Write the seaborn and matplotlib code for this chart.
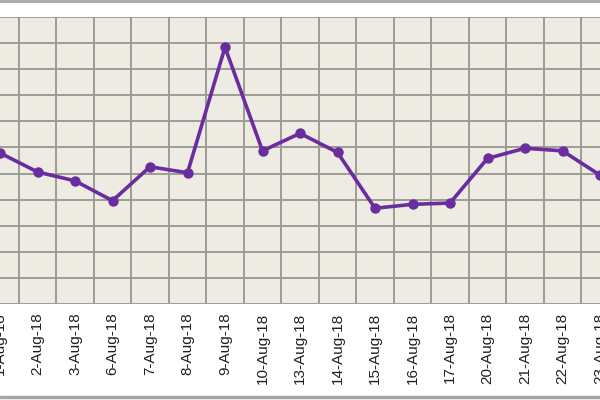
import numpy as np
import pandas as pd
import seaborn as sns
import matplotlib.pyplot as plt
from matplotlib.lines import Line2D

dates = ['1-Aug-18', '2-Aug-18', '3-Aug-18', '6-Aug-18', '7-Aug-18', '8-Aug-18',
         '9-Aug-18', '10-Aug-18', '13-Aug-18', '14-Aug-18', '15-Aug-18', '16-Aug-18',
         '17-Aug-18', '20-Aug-18', '21-Aug-18', '22-Aug-18', '23-Aug-18']
values = [5.79, 5.06, 4.72, 3.96, 5.26, 5.03, 9.84, 5.87, 6.54, 5.81,
          3.67, 3.82, 3.87, 5.58, 5.97, 5.87, 4.94]

df = pd.DataFrame({'Date': dates, 'Value': values})
df['Pos'] = np.arange(len(df))

sns.set_theme(style="white")
plt.rcParams['font.family'] = ['Liberation Sans', 'DejaVu Sans']

fig = plt.figure(figsize=(6, 4), dpi=100)
ax = fig.add_axes([0, 0.24, 1, 0.7175])
ax.set_facecolor('#EDEBE2')

grid_color = '#9C9C94'
sns.lineplot(data=df, x='Pos', y='Value', ax=ax, color='#6A2C9E',
             linewidth=2.6, marker='o', markersize=7.5, markeredgewidth=0)

# visible window is cropped through the first and last category
ax.set_xlim(3 / 37.8, 603 / 37.8)
ax.set_ylim(0, 11)

ax.set_xticks(df['Pos'])
ax.set_xticklabels(df['Date'], rotation=90, fontsize=11, va='top', color='#202020')
ax.set_xticks(df['Pos'][:-1] + 0.5, minor=True)
ax.set_yticks(range(0, 12))
ax.set_yticklabels([])
ax.tick_params(axis='both', which='both', length=0, pad=6)
ax.tick_params(axis='x', which='major', pad=6)

ax.grid(False)
ax.xaxis.grid(True, which='minor', color=grid_color, linewidth=1.4)
ax.yaxis.grid(True, which='major', color=grid_color, linewidth=1.4)
ax.set_axisbelow(True)
for s in ax.spines.values():
    s.set_visible(False)
ax.set_xlabel('')
ax.set_ylabel('')

# outer chart border
fig.add_artist(Line2D([0, 1], [0.9985, 0.9985], color='#A6A6A6', linewidth=2))
fig.add_artist(Line2D([0, 1], [0.0085, 0.0085], color='#A6A6A6', linewidth=2.5))

fig.savefig('out.png', dpi=100)
plt.close(fig)
